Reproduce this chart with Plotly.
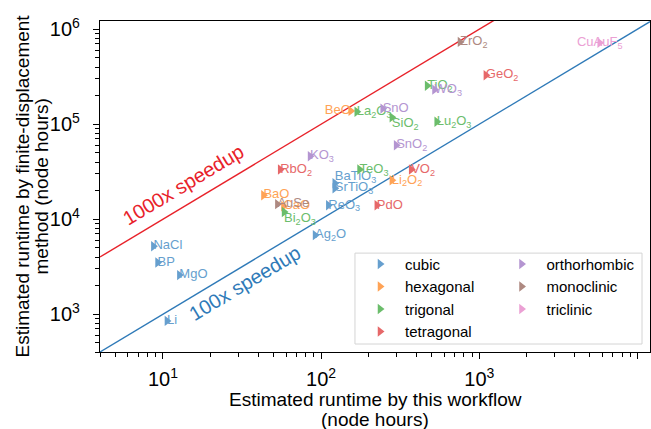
import numpy as np
import plotly.graph_objects as go

# ---------------- data ----------------
materials = ["NaCl", "BP", "MgO", "Li", "Ag<sub>2</sub>O", "ReO<sub>3</sub>", "BaTiO<sub>3</sub>", "SrTiO<sub>3</sub>",
             "BaO", "CaO", "Li<sub>2</sub>O<sub>2</sub>", "BeO",
             "Bi<sub>2</sub>O<sub>3</sub>", "TeO<sub>3</sub>", "La<sub>2</sub>O<sub>3</sub>", "SiO<sub>2</sub>", "TiO<sub>2</sub>", "Lu<sub>2</sub>O<sub>3</sub>",
             "RbO<sub>2</sub>", "VO<sub>2</sub>", "PdO", "GeO<sub>2</sub>",
             "KO<sub>3</sub>", "SnO<sub>2</sub>", "SnO", "WO<sub>3</sub>",
             "AuSe", "ZrO<sub>2</sub>",
             "CuAuF<sub>5</sub>"]
workflow_hours = [8.7, 9.25, 12.7, 10.6, 91.6, 111, 122, 122,
                  43.2, 57.8, 280, 154,
                  58.3, 175, 168, 280, 468, 538,
                  55.1, 371, 225, 1100,
                  85.1, 298, 245, 521,
                  52.9, 755,
                  5770]
fd_hours = [5200, 3500, 2580, 850, 6790, 14000, 23900, 21200,
            17900, 13700, 25700, 138000,
            11900, 33300, 135000, 118000, 254000, 106000,
            33300, 33300, 14000, 328000,
            46000, 60100, 146000, 231000,
            14400, 735000,
            718000]
crystal_system = ["cubic"] * 8 + ["hexagonal"] * 4 + ["trigonal"] * 6 + ["tetragonal"] * 4 + \
                 ["orthorhombic"] * 4 + ["monoclinic"] * 2 + ["triclinic"]

systems = ["cubic", "hexagonal", "trigonal", "tetragonal", "orthorhombic", "monoclinic", "triclinic"]
speedups = [1000, 100]
speedup_labels = ["1000x speedup", "100x speedup"]
x_title_lines = ["Estimated runtime by this workflow", "(node hours)"]
y_title_lines = ["Estimated runtime by finite-displacement", "method (node hours)"]

x_ticks = [10, 100, 1000, 10000]
x_ticktext = ["10<sup>1</sup>", "10<sup>2</sup>", "10<sup>3</sup>", "10<sup>4</sup>"]
y_ticks = [1e3, 1e4, 1e5, 1e6]
y_ticktext = ["10<sup>3</sup>", "10<sup>4</sup>", "10<sup>5</sup>", "10<sup>6</sup>"]

# ---------------- style ----------------
colors = {
    "cubic": "#669fce",
    "hexagonal": "#ffa356",
    "trigonal": "#6bbd6b",
    "tetragonal": "#e66869",
    "orthorhombic": "#b495d1",
    "monoclinic": "#ae8981",
    "triclinic": "#eba0d4",
}
legend_column = {"cubic": "legend", "hexagonal": "legend", "trigonal": "legend", "tetragonal": "legend",
                 "orthorhombic": "legend2", "monoclinic": "legend2", "triclinic": "legend2"}
label_pos_override = {"BeO": "middle left", "CuAuF<sub>5</sub>": "middle center",
                      "BaTiO<sub>3</sub>": "top right", "SiO<sub>2</sub>": "bottom right",
                      "Bi<sub>2</sub>O<sub>3</sub>": "bottom right"}
line_colors = ["#e8222a", "#2f7ab8"]
FONT = "Arial, Liberation Sans, Helvetica, sans-serif"

xr = [np.log10(4), np.log10(1.2e4)]
yr = [np.log10(400), np.log10(1.22e6)]

fig = go.Figure()

# speedup lines
xl = [10 ** xr[0], 10 ** xr[1]]
for s, c in zip(speedups, line_colors):
    fig.add_trace(go.Scatter(x=xl, y=[v * s for v in xl], mode="lines",
                             line=dict(color=c, width=1.4), showlegend=False, hoverinfo="skip"))

# points + labels
for sysname in systems:
    idx = [i for i, c in enumerate(crystal_system) if c == sysname]
    xs = [workflow_hours[i] for i in idx]
    ys = [fd_hours[i] for i in idx]
    names = [materials[i] for i in idx]
    fig.add_trace(go.Scatter(
        x=xs, y=ys, mode="text", text=names,
        textposition=[label_pos_override.get(n, "middle right") for n in names],
        textfont=dict(color=colors[sysname], size=13, family=FONT),
        showlegend=False, hoverinfo="skip"))
    fig.add_trace(go.Scatter(
        x=xs, y=ys, mode="markers", name=sysname, legend=legend_column[sysname],
        marker=dict(symbol="triangle-right", size=9, color=colors[sysname], line=dict(width=0))))

# speedup annotations
fig.add_annotation(x=np.log10(13.4), y=np.log10(22800), text=speedup_labels[0], showarrow=False,
                   textangle=-31, font=dict(color=line_colors[0], size=20, family=FONT))
fig.add_annotation(x=np.log10(33.1), y=np.log10(2120), text=speedup_labels[1], showarrow=False,
                   textangle=-31, font=dict(color=line_colors[1], size=20, family=FONT))

# axis titles (one annotation per line for matplotlib-like line spacing)
title_font = dict(size=19, family=FONT, color="black")
for line, yp in zip(x_title_lines, [-0.1449, -0.2030]):
    fig.add_annotation(xref="paper", yref="paper", x=0.5, y=yp, text=line, showarrow=False,
                       xanchor="center", yanchor="middle", font=title_font)
for line, xp in zip(y_title_lines, [-0.1418, -0.1055]):
    fig.add_annotation(xref="paper", yref="paper", x=xp, y=0.5, text=line, showarrow=False,
                       textangle=-90, xanchor="center", yanchor="middle", font=title_font)

# legend frame
fig.add_shape(type="rect", xref="paper", yref="paper", x0=0.4636, x1=0.9855, y0=0.0241, y1=0.2988,
              line=dict(color="#d4d4d4", width=1), fillcolor="white", layer="above")

minor_x = [k * 10 ** d for d in range(0, 5) for k in range(2, 10)]
minor_y = [k * 10 ** d for d in range(2, 7) for k in range(2, 10)]

axis_common = dict(type="log", showgrid=False, zeroline=False, showline=True, linecolor="black",
                   linewidth=1.3, mirror=True, ticks="outside", ticklen=6, tickwidth=1.3,
                   tickcolor="black", tickfont=dict(size=20, family=FONT, color="black"),
                   tickmode="array", automargin=False)

fig.update_xaxes(**axis_common, range=xr, tickvals=x_ticks, ticktext=x_ticktext,
                 ticklabelstandoff=3,
                 minor=dict(tickmode="array", tickvals=minor_x, ticks="outside", ticklen=3.5,
                            tickwidth=1, tickcolor="black", showgrid=False))
fig.update_yaxes(**axis_common, range=yr, tickvals=y_ticks, ticktext=y_ticktext,
                 ticklabelstandoff=9,
                 minor=dict(tickmode="array", tickvals=minor_y, ticks="outside", ticklen=3.5,
                            tickwidth=1, tickcolor="black", showgrid=False))

legend_common = dict(yanchor="top", itemwidth=40, borderwidth=0,
                     bgcolor="rgba(0,0,0,0)", font=dict(size=15, family=FONT, color="black"),
                     orientation="v")
fig.update_layout(
    width=651, height=429,
    margin=dict(l=100, r=1, t=21, b=77, pad=0, autoexpand=False),
    plot_bgcolor="white", paper_bgcolor="white",
    font=dict(family=FONT, color="black"),
    legend=dict(**legend_common, x=0.4636, xanchor="left", y=0.315),
    legend2=dict(**legend_common, x=0.9827, xanchor="right", y=0.315),
)

fig.write_html("out.html", config={"displayModeBar": False},
               post_script="document.body.style.margin='0';")
